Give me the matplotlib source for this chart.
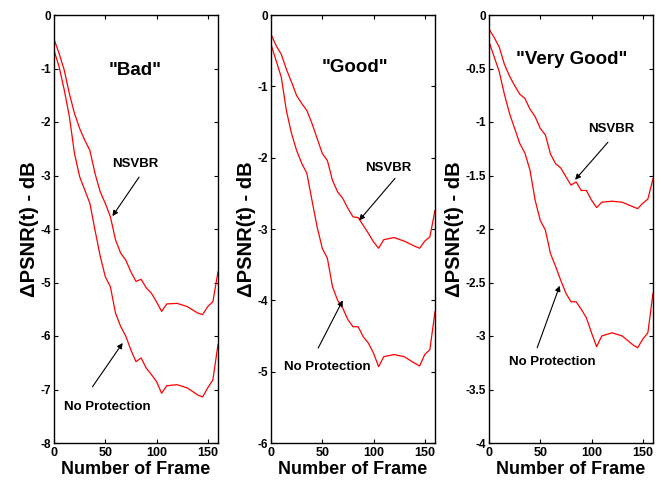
import matplotlib
matplotlib.use("Agg")
import matplotlib.pyplot as plt

frames = [0, 5, 10, 15, 20, 25, 30, 35, 40, 45, 50, 55, 60, 65, 70, 75, 80, 85,
          90, 95, 100, 105, 110, 120, 130, 140, 145, 150, 155, 160]

bad_nsvbr = [-0.45, -0.72, -1.03, -1.47, -1.84, -2.12, -2.34, -2.53, -2.96, -3.30,
             -3.52, -3.77, -4.20, -4.45, -4.58, -4.80, -4.98, -4.94, -5.10, -5.20,
             -5.36, -5.54, -5.40, -5.39, -5.45, -5.57, -5.60, -5.45, -5.36, -4.80]
bad_noprot = [-0.66, -0.97, -1.40, -1.90, -2.59, -3.02, -3.27, -3.52, -4.02, -4.50,
              -4.89, -5.08, -5.57, -5.82, -6.00, -6.26, -6.48, -6.41, -6.60, -6.72,
              -6.85, -7.07, -6.93, -6.91, -6.97, -7.10, -7.14, -6.97, -6.82, -6.16]

good_nsvbr = [-0.27, -0.43, -0.55, -0.76, -0.94, -1.13, -1.24, -1.34, -1.52, -1.73,
              -1.94, -2.04, -2.32, -2.48, -2.57, -2.71, -2.83, -2.84, -2.95, -3.06,
              -3.18, -3.27, -3.15, -3.12, -3.17, -3.24, -3.27, -3.17, -3.11, -2.74]
good_noprot = [-0.41, -0.64, -0.87, -1.34, -1.66, -1.90, -2.08, -2.22, -2.60, -2.97,
               -3.27, -3.41, -3.81, -4.00, -4.11, -4.27, -4.37, -4.37, -4.51, -4.60,
               -4.74, -4.93, -4.79, -4.76, -4.79, -4.88, -4.92, -4.76, -4.69, -4.16]

vgood_nsvbr = [-0.13, -0.21, -0.30, -0.46, -0.57, -0.66, -0.74, -0.78, -0.88, -0.95,
               -1.06, -1.12, -1.30, -1.39, -1.43, -1.51, -1.59, -1.56, -1.64, -1.64,
               -1.73, -1.80, -1.75, -1.74, -1.75, -1.79, -1.81, -1.76, -1.72, -1.53]
vgood_noprot = [-0.25, -0.39, -0.53, -0.74, -0.92, -1.06, -1.20, -1.29, -1.45, -1.73,
                -1.92, -2.01, -2.23, -2.35, -2.48, -2.60, -2.68, -2.68, -2.75, -2.83,
                -2.97, -3.10, -3.00, -2.97, -3.00, -3.08, -3.11, -3.03, -2.97, -2.60]

titles = ['"Bad"', '"Good"', '"Very Good"']
ylims = [(-8, 0), (-6, 0), (-4, 0)]
yticks = [[-8, -7, -6, -5, -4, -3, -2, -1, 0],
          [-6, -5, -4, -3, -2, -1, 0],
          [-4, -3.5, -3, -2.5, -2, -1.5, -1, -0.5, 0]]
ytick_labels = [["-8", "-7", "-6", "-5", "-4", "-3", "-2", "-1", "0"],
                ["-6", "-5", "-4", "-3", "-2", "-1", "0"],
                ["-4", "-3.5", "-3", "-2.5", "-2", "-1.5", "-1", "-0.5", "0"]]
xticks = [0, 50, 100, 150]

nsvbr_series = [bad_nsvbr, good_nsvbr, vgood_nsvbr]
noprot_series = [bad_noprot, good_noprot, vgood_noprot]

# annotation placements (data coords)
title_pos = [(79, -1.03), (82, -0.73), (81, -0.42)]
ns_text = [(79, -2.79), (114, -2.15), (119, -1.07)]
ns_tail = [(83, -3.03), (121, -2.29), (116, -1.19)]
ns_head = [(57, -3.76), (86, -2.88), (84, -1.54)]
np_text = [(52, -7.33), (55, -4.94), (62, -3.24)]
np_tail = [(37.5, -6.95), (46, -4.67), (47, -3.11)]
np_head = [(67, -6.13), (70, -4.0), (69, -2.53)]

plt.rcParams['font.family'] = ['Liberation Sans', 'DejaVu Sans']
plt.rcParams['font.weight'] = 'bold'

fig = plt.figure(figsize=(6.61, 4.80), dpi=100)
lefts = [54 / 661, 271 / 661, 489 / 661]
w = 164 / 661
b = 37 / 480
h = 428 / 480

for i in range(3):
    ax = fig.add_axes([lefts[i], b, w, h])
    ax.plot(frames, nsvbr_series[i], color='red', lw=0.9)
    ax.plot(frames, noprot_series[i], color='red', lw=0.9)
    ax.set_xlim(0, 160)
    ax.set_ylim(*ylims[i])
    ax.set_xticks(xticks)
    ax.set_xticklabels([str(t) for t in xticks], fontsize=9, fontweight='bold')
    ax.set_yticks(yticks[i])
    ax.set_yticklabels(ytick_labels[i], fontsize=8.5, fontweight='bold')
    ax.tick_params(direction='in', top=True, right=True, length=3, width=0.8, pad=3)
    ax.tick_params(axis='y', pad=2)
    for s in ax.spines.values():
        s.set_linewidth(1.0)
    ax.set_xlabel('Number of Frame', fontsize=13, fontweight='bold', labelpad=1)
    ax.set_ylabel('ΔPSNR(t) - dB', fontsize=14.5, fontweight='bold', labelpad=1)
    ax.text(*title_pos[i], titles[i], fontsize=13.5, fontweight='bold', ha='center', va='center')
    ax.text(*ns_text[i], 'NSVBR', fontsize=9.5, fontweight='bold', ha='center', va='center')
    ax.text(*np_text[i], 'No Protection', fontsize=9.5, fontweight='bold', ha='center', va='center')
    ax.annotate('', xy=ns_head[i], xytext=ns_tail[i],
                arrowprops=dict(arrowstyle='-|>', color='black', lw=0.8,
                                mutation_scale=8, shrinkA=0, shrinkB=0))
    ax.annotate('', xy=np_head[i], xytext=np_tail[i],
                arrowprops=dict(arrowstyle='-|>', color='black', lw=0.8,
                                mutation_scale=8, shrinkA=0, shrinkB=0))

fig.savefig('out.png', dpi=100)
